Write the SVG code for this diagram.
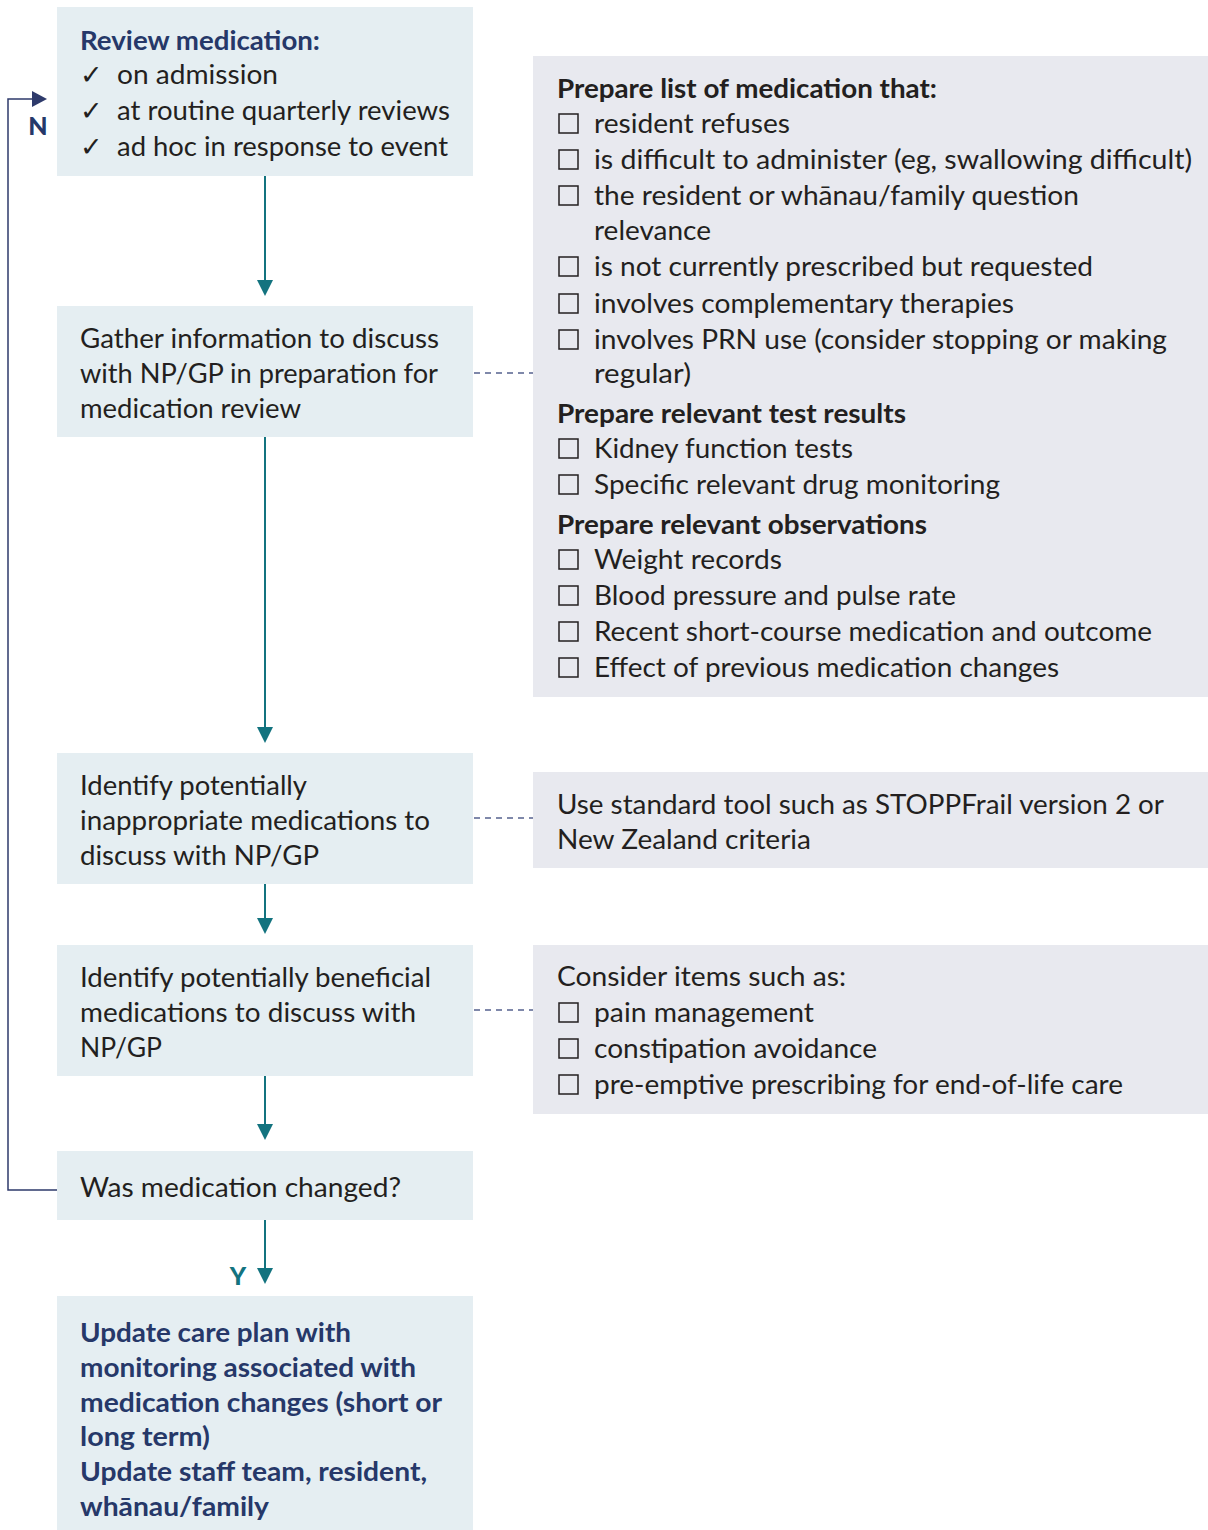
<svg xmlns="http://www.w3.org/2000/svg" width="1208" height="1530" viewBox="0 0 1208 1530">
<style>
.lb{fill:#e5eef2}
.rb{fill:#e8e9ef}
.t{font-family:Lato,"Open Sans","Liberation Sans",sans-serif;font-size:27px;fill:#231f20}
.tb{font-family:Lato,"Open Sans","Liberation Sans",sans-serif;font-size:27px;font-weight:bold;fill:#231f20}
.nv{font-family:Lato,"Open Sans","Liberation Sans",sans-serif;font-size:27px;font-weight:bold;fill:#263869}
.ck{font-family:"DejaVu Sans",sans-serif;font-size:27px;fill:#231f20}
.cb{fill:none;stroke:#231f20;stroke-width:1.5}
.flow{stroke:#13737f;stroke-width:2;fill:none}
.head{fill:#13737f}
.loop{stroke:#2e3a6b;stroke-width:1.5;fill:none}
.dash{stroke:#56628f;stroke-width:1.5;stroke-dasharray:6 5;fill:none}
.lbl{font-family:Lato,"Open Sans","Liberation Sans",sans-serif;font-size:25px;font-weight:900}
</style>
<rect width="1208" height="1530" fill="#ffffff"/>

<g id="connectors">
  <line class="flow" x1="265" y1="176" x2="265" y2="282"/>
  <polygon class="head" points="257,280 273,280 265,296"/>
  <line class="flow" x1="265" y1="437" x2="265" y2="729"/>
  <polygon class="head" points="257,727 273,727 265,743"/>
  <line class="flow" x1="265" y1="884" x2="265" y2="920"/>
  <polygon class="head" points="257,918 273,918 265,934"/>
  <line class="flow" x1="265" y1="1076" x2="265" y2="1126"/>
  <polygon class="head" points="257,1124 273,1124 265,1140"/>
  <line class="flow" x1="265" y1="1220" x2="265" y2="1270"/>
  <polygon class="head" points="257,1268 273,1268 265,1284"/>
  <text class="lbl" x="238" y="1285" text-anchor="middle" fill="#13737f">Y</text>
  <polyline class="loop" points="57,1190 8,1190 8,99 34,99"/>
  <polygon fill="#2e3a6b" points="32,91 47,99 32,107"/>
  <text class="lbl" x="38" y="135" text-anchor="middle" fill="#263869">N</text>
  <line class="dash" x1="474" y1="373" x2="533" y2="373"/>
  <line class="dash" x1="474" y1="818" x2="533" y2="818"/>
  <line class="dash" x1="474" y1="1010" x2="533" y2="1010"/>
</g>

<g id="review">
  <rect class="lb" x="57" y="7" width="416" height="169"/>
  <text class="nv" x="80" y="50" textLength="240" lengthAdjust="spacingAndGlyphs">Review medication:</text>
  <text class="ck" x="80" y="84">✓</text>
  <text class="t" x="117" y="84" textLength="161" lengthAdjust="spacingAndGlyphs">on admission</text>
  <text class="ck" x="80" y="120">✓</text>
  <text class="t" x="117" y="120" textLength="333" lengthAdjust="spacingAndGlyphs">at routine quarterly reviews</text>
  <text class="ck" x="80" y="156">✓</text>
  <text class="t" x="117" y="156" textLength="331" lengthAdjust="spacingAndGlyphs">ad hoc in response to event</text>
</g>

<g id="gather">
  <rect class="lb" x="57" y="306" width="416" height="131"/>
  <text class="t" x="80" y="348" textLength="359" lengthAdjust="spacingAndGlyphs">Gather information to discuss</text>
  <text class="t" x="80" y="383" textLength="358" lengthAdjust="spacingAndGlyphs">with NP/GP in preparation for</text>
  <text class="t" x="80" y="418" textLength="221" lengthAdjust="spacingAndGlyphs">medication review</text>
</g>

<g id="identify-inappropriate">
  <rect class="lb" x="57" y="753" width="416" height="131"/>
  <text class="t" x="80" y="795" textLength="227" lengthAdjust="spacingAndGlyphs">Identify potentially</text>
  <text class="t" x="80" y="830" textLength="350" lengthAdjust="spacingAndGlyphs">inappropriate medications to</text>
  <text class="t" x="80" y="865" textLength="239" lengthAdjust="spacingAndGlyphs">discuss with NP/GP</text>
</g>

<g id="identify-beneficial">
  <rect class="lb" x="57" y="945" width="416" height="131"/>
  <text class="t" x="80" y="987" textLength="351" lengthAdjust="spacingAndGlyphs">Identify potentially beneficial</text>
  <text class="t" x="80" y="1022" textLength="336" lengthAdjust="spacingAndGlyphs">medications to discuss with</text>
  <text class="t" x="80" y="1057" textLength="82" lengthAdjust="spacingAndGlyphs">NP/GP</text>
</g>

<g id="changed">
  <rect class="lb" x="57" y="1151" width="416" height="69"/>
  <text class="t" x="80" y="1197" textLength="321" lengthAdjust="spacingAndGlyphs">Was medication changed?</text>
</g>

<g id="update">
  <rect class="lb" x="57" y="1296" width="416" height="234"/>
  <text class="nv" x="80" y="1342" textLength="271" lengthAdjust="spacingAndGlyphs">Update care plan with</text>
  <text class="nv" x="80" y="1377" textLength="336" lengthAdjust="spacingAndGlyphs">monitoring associated with</text>
  <text class="nv" x="80" y="1412" textLength="362" lengthAdjust="spacingAndGlyphs">medication changes (short or</text>
  <text class="nv" x="80" y="1446" textLength="130" lengthAdjust="spacingAndGlyphs">long term)</text>
  <text class="nv" x="80" y="1481" textLength="347" lengthAdjust="spacingAndGlyphs">Update staff team, resident,</text>
  <text class="nv" x="80" y="1516" textLength="189" lengthAdjust="spacingAndGlyphs">whānau/family</text>
</g>

<g id="prepare-list">
  <rect class="rb" x="533" y="56" width="675" height="641"/>
  <text class="tb" x="557" y="98" textLength="380" lengthAdjust="spacingAndGlyphs">Prepare list of medication that:</text>
  <rect class="cb" x="559" y="114" width="19" height="19"/>
  <text class="t" x="594" y="133" textLength="196" lengthAdjust="spacingAndGlyphs">resident refuses</text>
  <rect class="cb" x="559" y="150" width="19" height="19"/>
  <text class="t" x="594" y="169" textLength="598" lengthAdjust="spacingAndGlyphs">is difficult to administer (eg, swallowing difficult)</text>
  <rect class="cb" x="559" y="186" width="19" height="19"/>
  <text class="t" x="594" y="205" textLength="485" lengthAdjust="spacingAndGlyphs">the resident or whānau/family question</text>
  <text class="t" x="594" y="240" textLength="117" lengthAdjust="spacingAndGlyphs">relevance</text>
  <rect class="cb" x="559" y="257" width="19" height="19"/>
  <text class="t" x="594" y="276" textLength="499" lengthAdjust="spacingAndGlyphs">is not currently prescribed but requested</text>
  <rect class="cb" x="559" y="294" width="19" height="19"/>
  <text class="t" x="594" y="313" textLength="420" lengthAdjust="spacingAndGlyphs">involves complementary therapies</text>
  <rect class="cb" x="559" y="330" width="19" height="19"/>
  <text class="t" x="594" y="349" textLength="573" lengthAdjust="spacingAndGlyphs">involves PRN use (consider stopping or making</text>
  <text class="t" x="594" y="383" textLength="97" lengthAdjust="spacingAndGlyphs">regular)</text>
  <text class="tb" x="557" y="423" textLength="349" lengthAdjust="spacingAndGlyphs">Prepare relevant test results</text>
  <rect class="cb" x="559" y="439" width="19" height="19"/>
  <text class="t" x="594" y="458" textLength="259" lengthAdjust="spacingAndGlyphs">Kidney function tests</text>
  <rect class="cb" x="559" y="475" width="19" height="19"/>
  <text class="t" x="594" y="494" textLength="406" lengthAdjust="spacingAndGlyphs">Specific relevant drug monitoring</text>
  <text class="tb" x="557" y="534" textLength="370" lengthAdjust="spacingAndGlyphs">Prepare relevant observations</text>
  <rect class="cb" x="559" y="550" width="19" height="19"/>
  <text class="t" x="594" y="569" textLength="188" lengthAdjust="spacingAndGlyphs">Weight records</text>
  <rect class="cb" x="559" y="586" width="19" height="19"/>
  <text class="t" x="594" y="605" textLength="362" lengthAdjust="spacingAndGlyphs">Blood pressure and pulse rate</text>
  <rect class="cb" x="559" y="622" width="19" height="19"/>
  <text class="t" x="594" y="641" textLength="558" lengthAdjust="spacingAndGlyphs">Recent short-course medication and outcome</text>
  <rect class="cb" x="559" y="658" width="19" height="19"/>
  <text class="t" x="594" y="677" textLength="465" lengthAdjust="spacingAndGlyphs">Effect of previous medication changes</text>
</g>

<g id="standard-tool">
  <rect class="rb" x="533" y="772" width="675" height="96"/>
  <text class="t" x="557" y="814" textLength="607" lengthAdjust="spacingAndGlyphs">Use standard tool such as STOPPFrail version 2 or</text>
  <text class="t" x="557" y="849" textLength="254" lengthAdjust="spacingAndGlyphs">New Zealand criteria</text>
</g>

<g id="consider-items">
  <rect class="rb" x="533" y="945" width="675" height="169"/>
  <text class="t" x="557" y="986" textLength="289" lengthAdjust="spacingAndGlyphs">Consider items such as:</text>
  <rect class="cb" x="559" y="1003" width="19" height="19"/>
  <text class="t" x="594" y="1022" textLength="220" lengthAdjust="spacingAndGlyphs">pain management</text>
  <rect class="cb" x="559" y="1039" width="19" height="19"/>
  <text class="t" x="594" y="1058" textLength="283" lengthAdjust="spacingAndGlyphs">constipation avoidance</text>
  <rect class="cb" x="559" y="1075" width="19" height="19"/>
  <text class="t" x="594" y="1094" textLength="529" lengthAdjust="spacingAndGlyphs">pre-emptive prescribing for end-of-life care</text>
</g>
</svg>
